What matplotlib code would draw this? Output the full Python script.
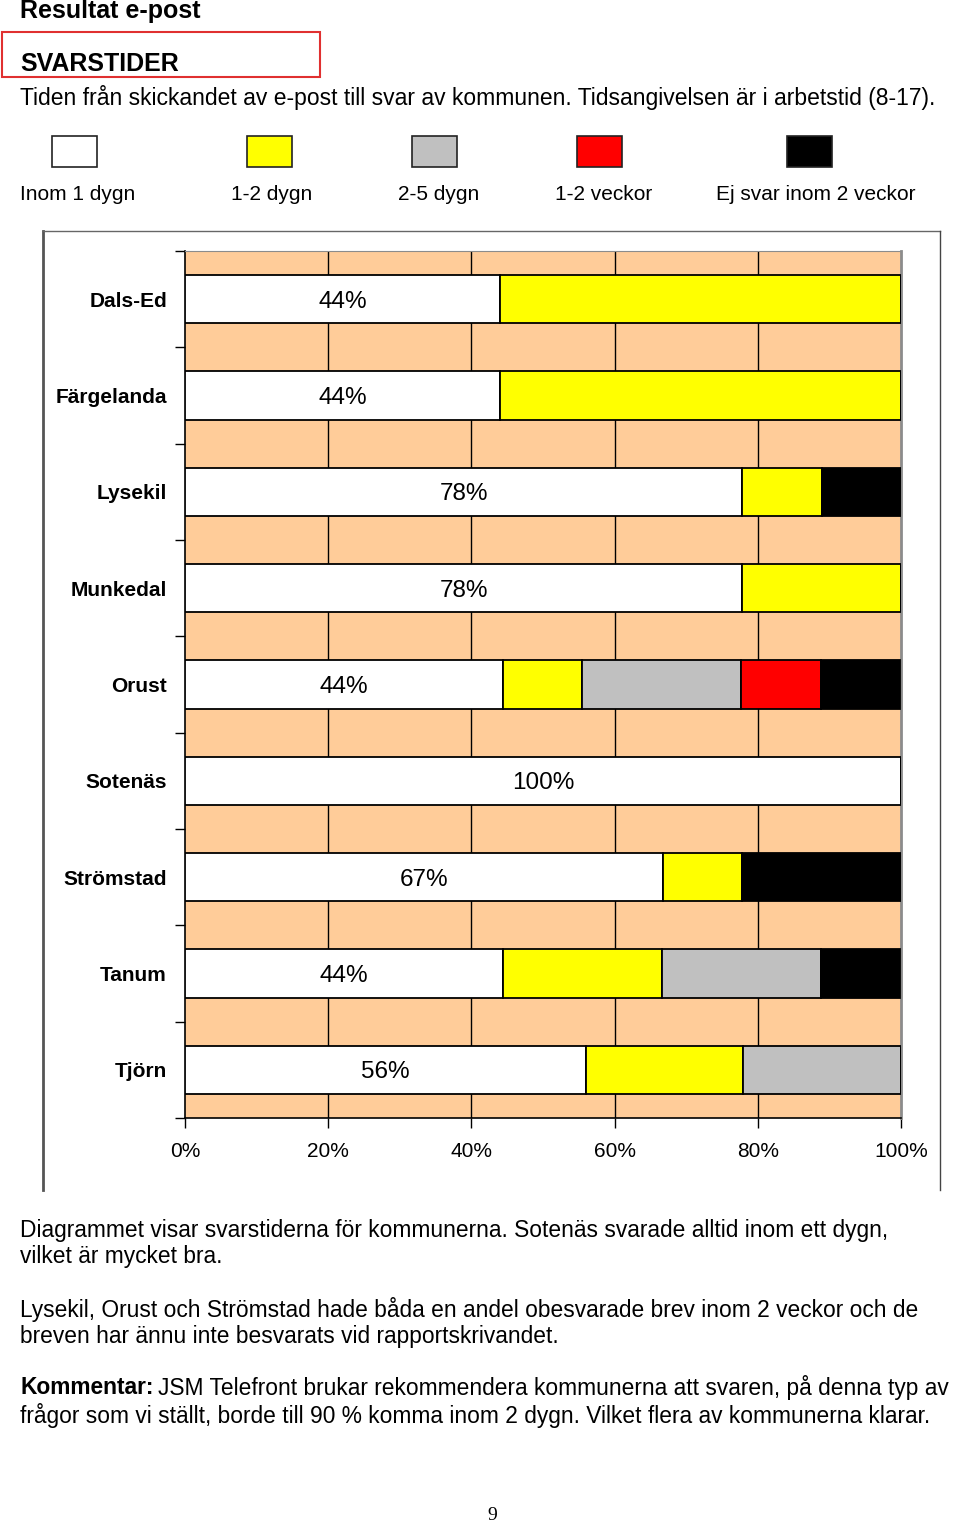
import matplotlib
matplotlib.use('Agg')
import matplotlib.pyplot as plt
from matplotlib.patches import Rectangle
from matplotlib.lines import Line2D
import numpy as np

plt.rcParams['font.family'] = ['Liberation Sans', 'DejaVu Sans']

# Data: share of answers per response-time class (percent)
kommuner = ['Dals-Ed', 'Färgelanda', 'Lysekil', 'Munkedal', 'Orust',
            'Sotenäs', 'Strömstad', 'Tanum', 'Tjörn']
inom_1_dygn = [44.0, 44.0, 77.8, 77.8, 44.4, 100.0, 66.7, 44.4, 56.0]
dygn_1_2 = [56.0, 56.0, 11.1, 22.2, 11.1, 0.0, 11.1, 22.2, 22.0]
dygn_2_5 = [0.0, 0.0, 0.0, 0.0, 22.2, 0.0, 0.0, 22.2, 22.0]
veckor_1_2 = [0.0, 0.0, 0.0, 0.0, 11.1, 0.0, 0.0, 0.0, 0.0]
ej_svar = [0.0, 0.0, 11.1, 0.0, 11.1, 0.0, 22.2, 11.1, 0.0]

klasser = ['Inom 1 dygn', '1-2 dygn', '2-5 dygn', '1-2 veckor', 'Ej svar inom 2 veckor']
farger = ['#FFFFFF', '#FFFF00', '#C0C0C0', '#FF0000', '#000000']
xticks = [0, 20, 40, 60, 80, 100]

W, H = 960, 1523
fig = plt.figure(figsize=(W / 100, H / 100), dpi=100)


def fx(x):
    return x / W


def fy(y):
    return 1 - y / H


# header texts
fig.text(fx(20), fy(11), 'Resultat e-post', fontsize=18, fontweight='bold', va='center')
fig.add_artist(Rectangle((fx(2), fy(77)), fx(318), 45 / H, transform=fig.transFigure,
                         fill=False, edgecolor='#E03030', linewidth=1.5))
fig.text(fx(20), fy(64), 'SVARSTIDER', fontsize=18, fontweight='bold', va='center')
fig.text(fx(20), fy(97), 'Tiden från skickandet av e-post till svar av kommunen. '
         'Tidsangivelsen är i arbetstid (8-17).', fontsize=16.5, va='center')

# legend boxes and labels
box_x = [52, 247, 412, 577, 787]
lab_x = [20, 231, 398, 555, 716]
for bx, lx, lab, col in zip(box_x, lab_x, klasser, farger):
    fig.add_artist(Rectangle((fx(bx), fy(167)), 45 / W, 31 / H, transform=fig.transFigure,
                             facecolor=col, edgecolor='#222222', linewidth=1.2))
    fig.text(fx(lx), fy(194), lab, fontsize=15, va='center')

# outer chart frame
for xs, ys, c, lw in [([43, 43], [231, 1190], '#555555', 2),
                      ([43, 940], [231, 231], '#666666', 1),
                      ([940, 940], [231, 1190], '#444444', 1)]:
    fig.add_artist(Line2D([fx(v) for v in xs], [fy(v) for v in ys],
                          transform=fig.transFigure, color=c, linewidth=lw))

# chart
ax = fig.add_axes([fx(185), fy(1118), (901 - 185) / W, (1118 - 251) / H])
ax.set_facecolor('#FFCC99')
y = np.arange(len(kommuner))
left = np.zeros(len(kommuner))
for vals, col in zip([inom_1_dygn, dygn_1_2, dygn_2_5, veckor_1_2, ej_svar], farger):
    ax.barh(y, vals, left=left, height=0.5, color=col, edgecolor='black',
            linewidth=1.3, zorder=3)
    left += np.array(vals)

for yi, v in zip(y, inom_1_dygn):
    ax.text(v / 2, yi, f'{round(v)}%', ha='center', va='center_baseline', fontsize=17.5, zorder=4)

ax.set_xlim(0, 100)
ax.set_ylim(len(kommuner) - 0.5, -0.5)
ax.set_xticks(xticks)
ax.set_xticklabels([f'{t}%' for t in xticks], fontsize=15)
ax.tick_params(axis='x', length=7, width=1, pad=10)
ax.set_yticks(y)
ax.set_yticklabels(kommuner, fontsize=15, fontweight='bold')
ax.set_yticks(np.arange(len(kommuner) + 1) - 0.5, minor=True)
ax.tick_params(axis='y', which='major', length=0, pad=13)
ax.tick_params(axis='y', which='minor', length=7, width=1)
for g in xticks[1:-1]:
    ax.axvline(g, color='black', linewidth=1, zorder=1)
ax.spines['top'].set_color('#8C8C8C')
ax.spines['right'].set_color('#8C8C8C')
ax.spines['right'].set_linewidth(2)
ax.spines['left'].set_linewidth(1.2)
ax.spines['bottom'].set_linewidth(1.2)

# body text
body = 16.4
fig.text(fx(20), fy(1230), 'Diagrammet visar svarstiderna för kommunerna. Sotenäs svarade alltid inom ett dygn,',
         fontsize=body, va='center')
fig.text(fx(20), fy(1257), 'vilket är mycket bra.', fontsize=body, va='center')
fig.text(fx(20), fy(1309), 'Lysekil, Orust och Strömstad hade båda en andel obesvarade brev inom 2 veckor och de',
         fontsize=body, va='center')
fig.text(fx(20), fy(1336), 'breven har ännu inte besvarats vid rapportskrivandet.', fontsize=body, va='center')
k = fig.text(fx(20), fy(1388), 'Kommentar:', fontsize=body, fontweight='bold', va='center')
fig.canvas.draw()
kend = k.get_window_extent().x1
fig.text(kend / W + 5 / W, fy(1388),
         'JSM Telefront brukar rekommendera kommunerna att svaren, på denna typ av',
         fontsize=body, va='center')
fig.text(fx(20), fy(1415), 'frågor som vi ställt, borde till 90 % komma inom 2 dygn. Vilket flera av kommunerna klarar.',
         fontsize=body, va='center')

fig.text(fx(492), fy(1515), '9', fontsize=14, family='Liberation Serif', ha='center', va='center')

fig.savefig('out.png', dpi=100)
